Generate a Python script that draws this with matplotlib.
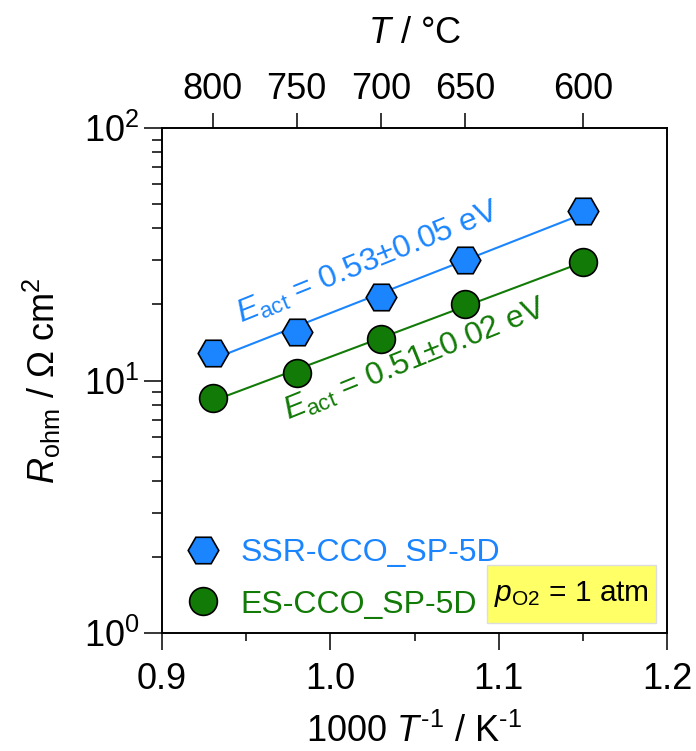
import numpy as np
import matplotlib
matplotlib.use("Agg")
import matplotlib.pyplot as plt
from matplotlib.patches import Rectangle
from matplotlib.ticker import MultipleLocator, LogLocator, NullFormatter, FixedLocator

plt.rcParams['font.family'] = ['Liberation Sans', 'DejaVu Sans']
plt.rcParams['mathtext.fontset'] = 'custom'
plt.rcParams['mathtext.rm'] = 'Liberation Sans'
plt.rcParams['mathtext.it'] = 'Liberation Sans:italic'
plt.rcParams['mathtext.bf'] = 'Liberation Sans:bold'

# ---- data ----
inv_T = [0.93, 0.98, 1.03, 1.08, 1.15]          # 1000/T (K^-1)
temps_C = [800, 750, 700, 650, 600]
R_ssr = [12.8, 15.6, 21.5, 30.0, 46.7]          # SSR-CCO_SP-5D
R_es = [8.5, 10.7, 14.6, 20.0, 29.4]            # ES-CCO_SP-5D
label_ssr = "SSR-CCO_SP-5D"
label_es = "ES-CCO_SP-5D"
ea_ssr = r"$E_{\mathrm{act}}$ = 0.53±0.05 eV"
ea_es = r"$E_{\mathrm{act}}$ = 0.51±0.02 eV"

blue = '#1a85ff'
green = '#127a07'

fig = plt.figure(figsize=(6.96, 7.51), dpi=100)
ax = fig.add_axes([162/696, 1-633/751, 505/696, 505/751])

x = np.array(inv_T)
for R, col, mk, ms, lab in [(R_ssr, blue, 'H', 22, label_ssr), (R_es, green, 'o', 20, label_es)]:
    R = np.array(R)
    p = np.polyfit(x, np.log10(R), 1)
    xf = np.array([x[0], x[-1]])
    ax.plot(xf, 10**np.polyval(p, xf), '-', color=col, lw=1.5, zorder=2)
    ax.plot(x, R, linestyle='none', marker=mk, ms=ms, mfc=col, mec='black', mew=1.2,
            label=lab, zorder=3)

ax.set_yscale('log')
ax.set_xlim(0.9, 1.2)
ax.set_ylim(1, 100)
ax.xaxis.set_major_locator(MultipleLocator(0.1))
ax.xaxis.set_minor_locator(MultipleLocator(0.05))
ax.xaxis.set_major_formatter(matplotlib.ticker.FormatStrFormatter('%.1f'))
ax.yaxis.set_major_locator(LogLocator(base=10, numticks=5))
ax.yaxis.set_minor_locator(LogLocator(base=10, subs=np.arange(2, 10), numticks=20))
ax.yaxis.set_minor_formatter(NullFormatter())

ax.tick_params(axis='both', which='major', direction='out', labelsize=26, width=1.1)
ax.tick_params(axis='x', which='major', length=12, pad=9)
ax.tick_params(axis='x', which='minor', length=6, width=1.1, direction='out')
ax.tick_params(axis='y', which='major', length=13, pad=3)
ax.tick_params(axis='y', which='minor', length=7, width=1.1, direction='out')
for s in ax.spines.values():
    s.set_linewidth(1.2)

ax.set_xlabel(r"1000 $T^{\text{-1}}$ / K$^{\text{-1}}$", fontsize=26, labelpad=12)
ax.set_ylabel(r"$R_{\mathrm{ohm}}$ / $\Omega$ cm$^{\mathrm{2}}$", fontsize=26, labelpad=15)

top = ax.twiny()
top.set_xlim(ax.get_xlim())
top.xaxis.set_major_locator(FixedLocator(inv_T))
top.set_xticklabels([str(t) for t in temps_C])
top.tick_params(axis='x', which='major', direction='out', length=11, width=1.1, labelsize=26, pad=4)
top.xaxis.set_minor_locator(matplotlib.ticker.NullLocator())
top.set_xlabel(r"$T$ / °C", fontsize=26, labelpad=21)
for s in top.spines.values():
    s.set_linewidth(1.2)

ax.text(0.947, 16.9, ea_ssr, color=blue, fontsize=23, rotation=22,
        rotation_mode='anchor', ha='left', va='baseline', zorder=4)
ax.text(0.975, 6.95, ea_es, color=green, fontsize=23, rotation=22,
        rotation_mode='anchor', ha='left', va='baseline', zorder=4)

leg = ax.legend(loc='lower left', bbox_to_anchor=(0.022, 0.0), frameon=False, fontsize=23,
                handletextpad=0.65, labelspacing=0.68, borderaxespad=0.0,
                handlelength=1.05, borderpad=0.42, labelcolor='linecolor')
for t, c in zip(leg.get_texts(), [blue, green]):
    t.set_color(c)

ax.add_patch(Rectangle((0.6436, 0.0198), 0.3345, 0.1149, transform=ax.transAxes,
                       fc='#ffff66', ec='#dddddd', lw=1, zorder=4))
ax.text(0.811, 0.077, r"$p_{\mathrm{O2}}$ = 1 atm", transform=ax.transAxes, fontsize=21.5,
        ha='center', va='center', zorder=5)

fig.savefig('out.png', dpi=100)
